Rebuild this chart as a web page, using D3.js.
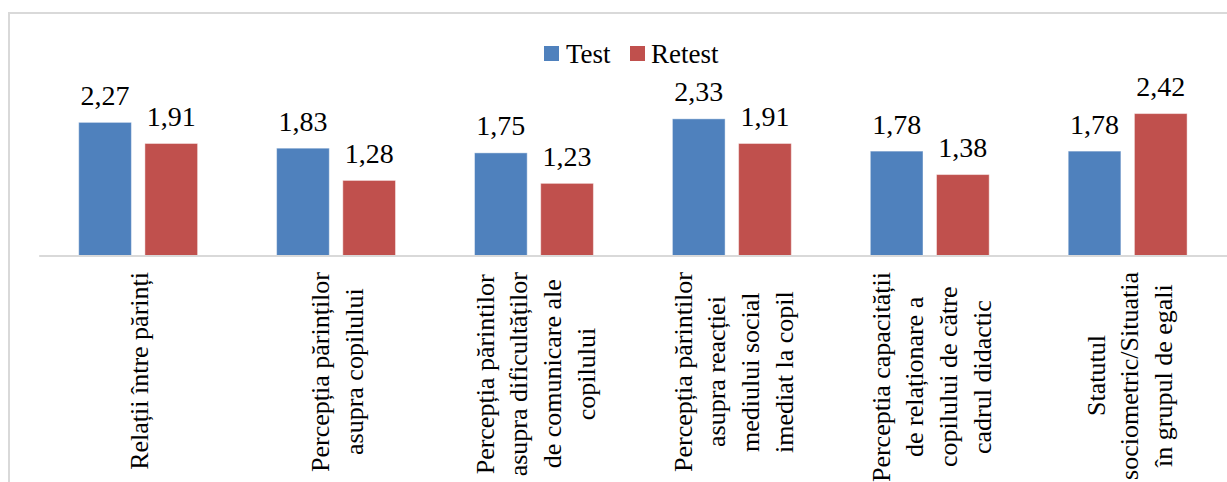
<!DOCTYPE html>
<html><head><meta charset="utf-8"><script src="https://cdn.jsdelivr.net/npm/d3@7"></script></head>
<body style="margin:0">
<div id="wrap" style="position:relative;width:1227px;height:482px;overflow:hidden;background:#fff">
<svg id="s" width="1227" height="482" style="position:absolute;left:0;top:0"></svg>
</div>
<script>
const categories = [
  ["Relații între părinți"],
  ["Percepția părinților", "asupra copilului"],
  ["Percepția părintilor", "asupra dificultăților", "de comunicare ale", "copilului"],
  ["Percepția părintilor", "asupra reacției", "mediului social", "imediat la copil"],
  ["Perceptia capacității", "de relaționare a", "copilului de către", "cadrul didactic"],
  ["Statutul", "sociometric/Situatia", "în grupul de egali"]
];
const seriesNames = ["Test", "Retest"];
const testValues = [2.27, 1.83, 1.75, 2.33, 1.78, 1.78];
const retestValues = [1.91, 1.28, 1.23, 1.91, 1.38, 2.42];
const colors = ["#4F81BD", "#C0504D"];

const FONT = '"Liberation Serif", "Times New Roman", Tinos, serif';
const svg = d3.select("#s");
const fmt = v => d3.format(".2f")(v).replace(".", ",");

// frame (chart area border)
svg.append("path")
  .attr("d", "M9,490 L9,13 L1240,13")
  .attr("fill", "none").attr("stroke", "#d9d9d9").attr("stroke-width", 2);

const x0 = d3.scaleBand().domain(d3.range(categories.length)).range([39.2, 1226.6]).padding(0);
const bw = x0.bandwidth();
const x1 = d3.scaleBand().domain(seriesNames).range([bw * 0.1996, bw * 0.8004]).paddingInner(0.204).paddingOuter(0);
const y = d3.scaleLinear().domain([0, 3]).range([255.5, 255.5 - 3 * 58.65]);

const rows = categories.map((c, i) => ({ i, vals: [testValues[i], retestValues[i]] }));

const groups = svg.append("g").selectAll("g").data(rows).join("g")
  .attr("transform", d => `translate(${x0(d.i)},0)`);

groups.selectAll("rect").data(d => d.vals.map((v, k) => ({ v, k }))).join("rect")
  .attr("x", d => x1(seriesNames[d.k]))
  .attr("width", x1.bandwidth())
  .attr("y", d => y(d.v))
  .attr("height", d => y(0) - y(d.v))
  .attr("fill", d => colors[d.k])
  .attr("stroke", "#ffffff").attr("stroke-opacity", 0.45).attr("stroke-width", 1);

groups.selectAll("text.val").data(d => d.vals.map((v, k) => ({ v, k }))).join("text")
  .attr("class", "val")
  .attr("x", d => x1(seriesNames[d.k]) + x1.bandwidth() / 2)
  .attr("y", d => y(d.v) - 17.5)
  .attr("text-anchor", "middle")
  .attr("font-size", 28)
  .style("font-family", FONT, "important")
  .text(d => fmt(d.v));

// x axis line
svg.append("line")
  .attr("x1", x0.range()[0]).attr("x2", 1227)
  .attr("y1", y(0) + 0.5).attr("y2", y(0) + 0.5)
  .attr("stroke", "#d9d9d9").attr("stroke-width", 2);

// legend
const legend = svg.append("g");
const legItems = [
  { name: seriesNames[0], color: colors[0], sx: 544, tx: 566 },
  { name: seriesNames[1], color: colors[1], sx: 630, tx: 651 }
];
legend.selectAll("rect").data(legItems).join("rect")
  .attr("x", d => d.sx).attr("y", 46).attr("width", 15).attr("height", 15)
  .attr("fill", d => d.color);
legend.selectAll("text.leg").data(legItems).join("text")
  .attr("class", "leg")
  .attr("x", d => d.tx).attr("y", 63)
  .attr("font-size", 27)
  .style("font-family", FONT, "important")
  .text(d => d.name);

// category labels: rotated multi-line blocks (HTML, vertical writing mode)
const labTop = 271.7;
const lineH = 33.6;
d3.select("#wrap").selectAll("div.cat").data(categories).join("div")
  .attr("class", "cat")
  .style("position", "absolute")
  .style("top", labTop + "px")
  .style("left", (d, i) => (x0(i) + bw / 2 + 2) + "px")
  .style("transform", "translateX(-50%) rotate(180deg)")
  .style("writing-mode", "vertical-rl")
  .style("text-align", "center")
  .style("white-space", "nowrap")
  .style("font-family", FONT, "important")
  .style("font-size", "26px")
  .style("line-height", lineH + "px")
  .style("color", "#000")
  .html(d => d.join("<br>"));
</script>
</body>
</html>
